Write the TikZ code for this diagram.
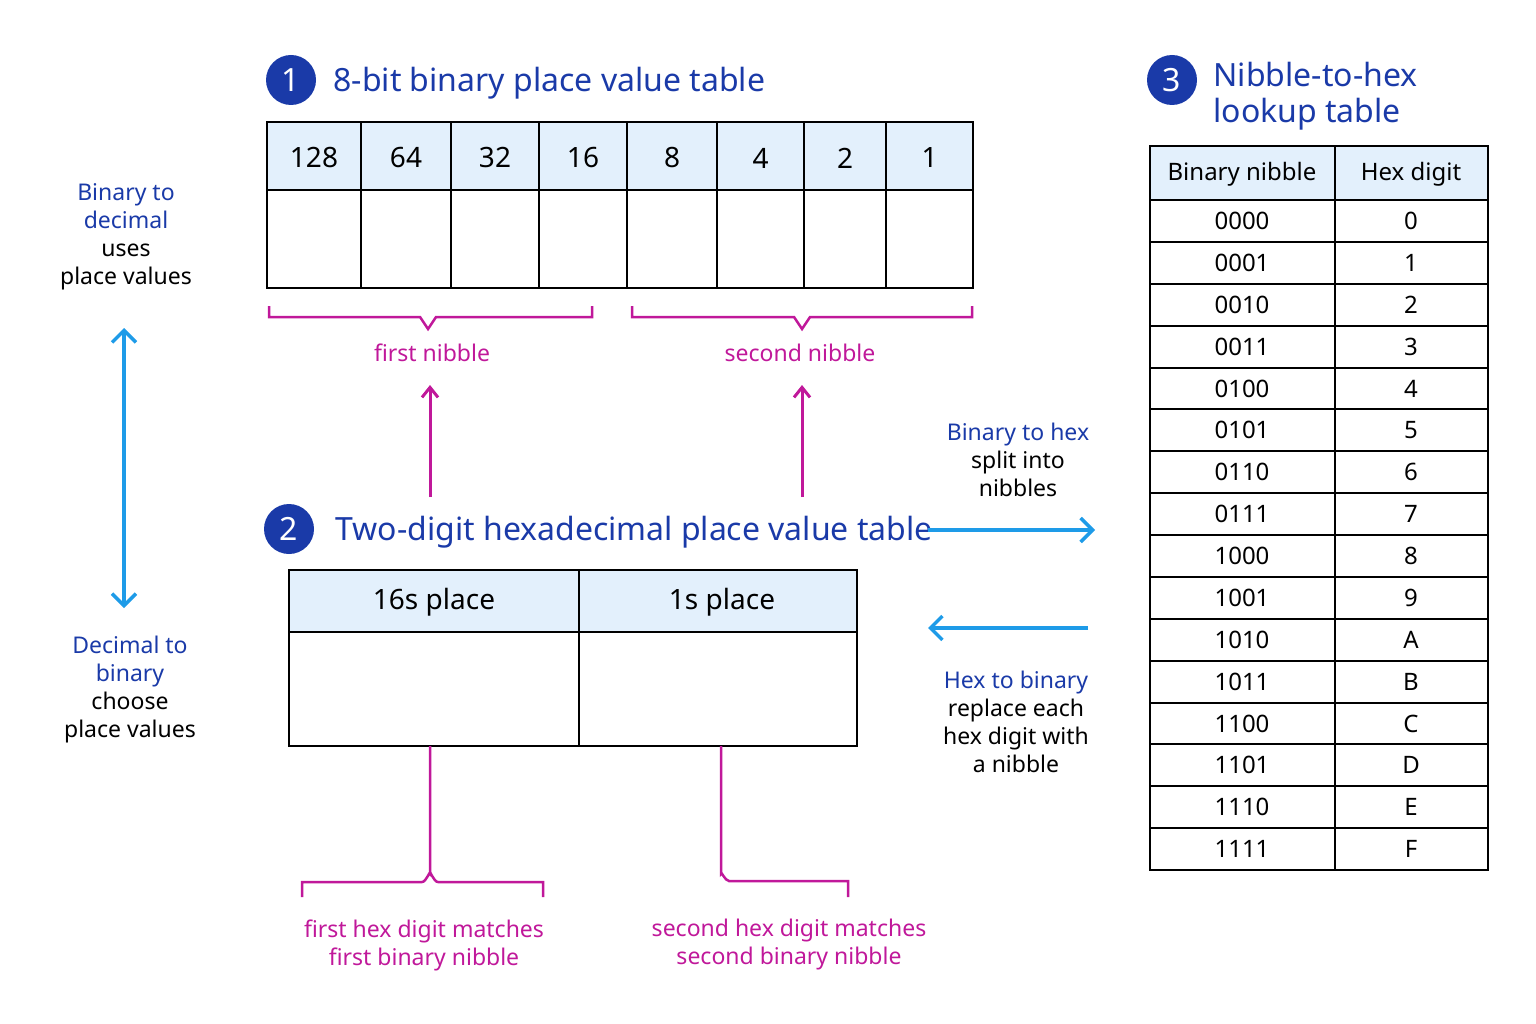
\documentclass[tikz,border=0pt]{standalone}
\usepackage{fontspec}
\setmainfont{Noto Sans}
\usetikzlibrary{arrows.meta}
\definecolor{tblue}{HTML}{1A3AA8}
\definecolor{hfill}{HTML}{E3F0FC}
\definecolor{mag}{HTML}{C0189A}
\definecolor{ablue}{HTML}{1E9BE8}
\begin{document}
\begin{tikzpicture}[x=1pt,y=-1pt,
  title/.style={text=tblue,font=\fontsize{32}{36}\selectfont\bfseries,anchor=west},
  badge/.style={circle,fill=tblue,text=white,minimum size=50pt,inner sep=0pt,font=\fontsize{32}{36}\selectfont\bfseries},
  cell/.style={draw=black,line width=2pt},
  hd/.style={font=\fontsize{28}{32}\selectfont},
  lk/.style={font=\fontsize{24}{28}\selectfont},
  mlab/.style={text=mag,font=\fontsize{23}{28}\selectfont,align=center},
  blab/.style={font=\fontsize{23}{28}\selectfont,align=center},
  mline/.style={draw=mag,line width=2.5pt},
  marrow/.style={draw=mag,line width=3pt,-{Straight Barb[length=10pt,width=16pt]}},
  barrow/.style={draw=ablue,line width=3.5pt,-{Straight Barb[length=12pt,width=24pt]}}]
\useasboundingbox (0,0) rectangle (1536,1024);
% Section 1
\node[badge] (b1) at (291,80) {1};
\node[title] (t1) at (330,83) {8-bit binary place value table};
\fill[hfill] (267,122) rectangle (973,190);
\draw[cell] (267,122) rectangle (973,288);
\draw[cell] (267,190) -- (973,190);
\foreach \x in {361,451,539,627,717,804,886} \draw[cell] (\x,122) -- (\x,288);
\foreach \a/\b/\t in {267/361/128,361/451/64,451/539/32,539/627/16,627/717/8,717/804/4,804/886/2,886/973/1}
  \node[hd] (h\t) at ({(\a+\b)/2},158) {\t};
\draw[mline] (269,306)--(269,317)--(420,317)--(428,329)--(436,317)--(592,317)--(592,306);
\draw[mline] (632,306)--(632,317)--(794,317)--(802,329)--(810,317)--(972,317)--(972,306);
\node[mlab] (fn) at (432,353) {first nibble};
\node[mlab] (sn) at (800,353) {second nibble};
\coordinate (a1s) at (430,497); \coordinate (a1e) at (430,385);
\coordinate (a2s) at (802,497); \coordinate (a2e) at (802,385);
\draw[marrow] (a1s) -- (a1e);
\draw[marrow] (a2s) -- (a2e);
% Section 2
\node[badge] (b2) at (289,529) {2};
\node[title] (t2) at (332,532) {Two-digit hexadecimal place value table};
\fill[hfill] (289,570) rectangle (857,632);
\draw[cell] (289,570) rectangle (857,746);
\draw[cell] (289,632) -- (857,632);
\draw[cell] (579,570) -- (579,746);
\node[hd] (p16) at (434,602) {16s place};
\node[hd] (p1) at (722,602) {1s place};
\draw[mline] (430,746) -- (430,874) to[out=90,in=0] (422,882) -- (302,882) -- (302,897);
\draw[mline] (430,874) to[out=90,in=180] (438,882) -- (543,882) -- (543,897);
\draw[mline] (721,746) -- (721,874) to[out=90,in=180] (729,881) -- (848,881) -- (848,897);
\node[mlab] (l1) at (424,945) {first hex digit matches\\first binary nibble};
\node[mlab] (l2) at (789,945) {second hex digit matches\\second binary nibble};
% left
\node[blab] (bd) at (126,237) {\textcolor{tblue}{\bfseries Binary to}\\\textcolor{tblue}{\bfseries decimal}\\uses\\place values};
\node[blab] (db) at (130,690) {\textcolor{tblue}{\bfseries Decimal to}\\\textcolor{tblue}{\bfseries binary}\\choose\\place values};
\coordinate (la) at (124,328); \coordinate (lb) at (124,608);
\draw[barrow,{Straight Barb[length=12pt,width=24pt]}-{Straight Barb[length=12pt,width=24pt]}] (la) -- (lb);
% middle
\node[blab] (bh) at (1018,460) {\textcolor{tblue}{\bfseries Binary to hex}\\split into\\nibbles};
\node[blab] (hb) at (1016,722) {\textcolor{tblue}{\bfseries Hex to binary}\\replace each\\hex digit with\\a nibble};
\coordinate (r1) at (928,530); \coordinate (r2) at (1095,530);
\coordinate (r3) at (1088,628); \coordinate (r4) at (928,628);
\draw[barrow] (r1) -- (r2);
\draw[barrow] (r3) -- (r4);
% Section 3
\node[badge] (b3) at (1172,80) {3};
\node[title,align=left] (t3) at (1210,96) {Nibble-to-hex\\lookup table};
\fill[hfill] (1150,146) rectangle (1488,200);
\draw[cell] (1150,146) rectangle (1488,870);
\draw[cell] (1335,146) -- (1335,870);
\node[lk] (hb1) at (1242,174) {Binary nibble};
\node[lk] (hb2) at (1411,174) {Hex digit};
\foreach \b/\h [count=\i from 0] in {0000/0,0001/1,0010/2,0011/3,0100/4,0101/5,0110/6,0111/7,1000/8,1001/9,1010/A,1011/B,1100/C,1101/D,1110/E,1111/F}{
  \draw[cell] (1150,{200+41.875*\i}) -- (1488,{200+41.875*\i});
  \node[lk] (nb\i) at (1242,{221+41.875*\i}) {\b};
  \node[lk] (nh\i) at (1411,{221+41.875*\i}) {\h};
}
\end{tikzpicture}
\end{document}
